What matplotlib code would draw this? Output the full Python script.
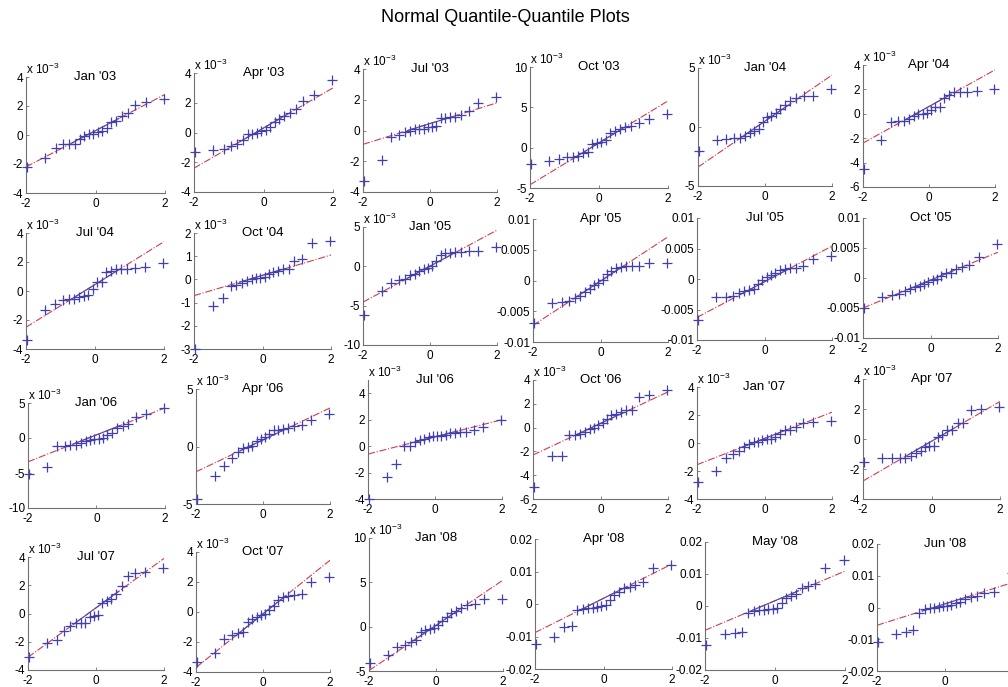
import numpy as np
import matplotlib
matplotlib.use("Agg")
from matplotlib import pyplot as plt

plt.rcParams['font.family'] = ['Liberation Sans', 'DejaVu Sans']

# theoretical normal quantiles on the x axis (20 samples per quarter)
theo_q = [-1.96, -1.44, -1.15, -0.93, -0.76, -0.60, -0.45, -0.32, -0.19, -0.06,
          0.06, 0.19, 0.32, 0.45, 0.60, 0.76, 0.93, 1.15, 1.44, 1.96]

labels = ["Jan '03", "Apr '03", "Jul '03", "Oct '03", "Jan '04", "Apr '04",
          "Jul '04", "Oct '04", "Jan '05", "Apr '05", "Jul '05", "Oct '05",
          "Jan '06", "Apr '06", "Jul '06", "Oct '06", "Jan '07", "Apr '07",
          "Jul '07", "Oct '07", "Jan '08", "Apr '08", "May '08", "Jun '08"]

# sample quantiles, in units of 1e-3
y_jan03 = [-2.2, -1.6, -0.9, -0.6, -0.6, -0.6, -0.3, -0.1, 0.1, 0.1, 0.2, 0.3, 0.5, 0.9, 1.0, 1.3, 1.5, 2.1, 2.3, 2.5]
y_apr03 = [-1.3, -1.2, -1.1, -0.9, -0.8, -0.5, -0.1, -0.1, 0.0, 0.1, 0.2, 0.4, 0.7, 0.9, 1.1, 1.3, 1.6, 2.1, 2.5, 3.5]
y_jul03 = [-3.3, -1.9, -0.4, -0.3, -0.1, 0.0, 0.1, 0.1, 0.1, 0.2, 0.2, 0.3, 0.8, 0.8, 0.9, 0.9, 1.0, 1.3, 1.8, 2.2]
y_oct03 = [-2.0, -1.6, -1.4, -1.2, -1.2, -1.0, -0.6, -0.5, 0.4, 0.6, 0.7, 1.0, 1.8, 2.1, 2.3, 2.6, 2.7, 3.0, 3.6, 4.2]
y_jan04 = [-2.0, -1.1, -1.0, -0.96, -0.96, -0.8, -0.5, -0.3, -0.15, 0.4, 0.85, 0.9, 1.2, 1.55, 1.9, 2.2, 2.5, 2.6, 2.65, 3.2]
y_apr04 = [-4.5, -2.15, -0.7, -0.6, -0.55, -0.4, -0.2, 0.0, 0.0, 0.05, 0.3, 0.55, 0.55, 1.3, 1.55, 1.75, 1.75, 1.8, 1.85, 2.0]
y_jul04 = [-3.4, -1.3, -0.9, -0.65, -0.55, -0.55, -0.4, -0.35, -0.3, 0.15, 0.65, 0.65, 1.3, 1.4, 1.5, 1.5, 1.55, 1.6, 1.65, 1.95]
y_oct04 = [-3.0, -1.15, -0.8, -0.3, -0.25, -0.15, -0.05, 0.0, 0.05, 0.07, 0.1, 0.25, 0.3, 0.35, 0.45, 0.45, 0.8, 0.9, 1.55, 1.65]
y_jan05 = [-6.2, -3.1, -2.1, -1.8, -1.6, -1.15, -0.95, -0.65, -0.4, -0.2, 0.1, 0.7, 1.4, 1.7, 1.75, 1.8, 1.8, 1.9, 2.0, 2.5]
y_apr05 = [-6.9, -3.7, -3.55, -3.35, -2.8, -2.6, -1.8, -1.35, -0.7, -0.4, 0.15, 1.0, 1.55, 2.0, 2.2, 2.4, 2.4, 2.4, 2.8, 2.9]
y_jul05 = [-6.7, -3.0, -3.0, -2.85, -2.3, -2.0, -1.75, -1.65, -0.8, -0.2, 0.35, 0.7, 1.0, 1.45, 1.65, 1.8, 1.8, 2.1, 3.2, 3.7]
y_oct05 = [-5.0, -3.2, -2.9, -2.6, -2.2, -1.8, -1.5, -1.3, -1.0, -0.7, -0.4, -0.15, 0.3, 0.8, 0.9, 1.5, 1.8, 2.2, 3.5, 5.7]
y_jan06 = [-5.2, -4.2, -1.1, -1.1, -1.0, -1.0, -0.7, -0.45, -0.3, -0.2, -0.2, -0.05, 0.5, 0.7, 1.5, 1.7, 2.0, 3.0, 3.5, 4.3]
y_apr06 = [-4.6, -2.6, -1.7, -1.0, -0.5, -0.15, -0.05, 0.05, 0.45, 0.65, 0.85, 1.1, 1.4, 1.45, 1.5, 1.6, 1.8, 1.9, 2.3, 2.85]
y_jul06 = [-4.0, -2.3, -1.35, 0.0, 0.0, 0.3, 0.5, 0.55, 0.7, 0.75, 0.75, 0.8, 0.85, 1.0, 1.0, 1.05, 1.05, 1.2, 1.45, 1.95]
y_oct06 = [-5.0, -2.4, -2.35, -0.65, -0.65, -0.5, -0.35, -0.15, 0.0, 0.2, 0.4, 0.75, 1.05, 1.15, 1.35, 1.45, 1.45, 2.6, 2.75, 3.2]
y_jan07 = [-2.8, -2.0, -1.1, -0.8, -0.6, -0.25, -0.1, 0.05, 0.1, 0.25, 0.3, 0.3, 0.4, 0.65, 0.9, 0.95, 1.15, 1.4, 1.5, 1.55]
y_apr07 = [-1.5, -1.25, -1.25, -1.25, -1.25, -1.15, -0.9, -0.8, -0.55, -0.45, -0.45, 0.15, 0.3, 0.6, 0.6, 1.05, 1.1, 1.95, 2.0, 2.15]
y_jul07 = [-3.05, -2.1, -1.85, -1.25, -0.85, -0.7, -0.7, -0.65, -0.25, -0.15, -0.1, 0.75, 0.85, 1.0, 1.4, 1.95, 2.65, 2.85, 2.95, 3.2]
y_oct07 = [-3.35, -2.7, -1.8, -1.55, -1.4, -1.35, -0.65, -0.45, -0.35, -0.2, -0.1, 0.15, 0.4, 0.8, 1.0, 1.1, 1.15, 1.2, 2.0, 2.35]
y_jan08 = [-4.1, -3.2, -2.25, -2.05, -1.7, -1.5, -0.55, -0.4, -0.3, -0.1, 0.2, 0.65, 1.1, 1.5, 1.8, 2.05, 2.45, 2.6, 3.1, 3.1]
y_apr08 = [-12.3, -10.2, -7.0, -6.8, -1.8, -1.6, -1.3, -1.3, -0.8, -0.6, -0.3, 1.2, 2.8, 3.8, 4.8, 5.3, 5.8, 6.9, 11.2, 12.0]
y_may08 = [-12.2, -8.9, -8.5, -8.0, -2.1, -1.6, -1.35, -1.35, -1.0, -1.0, -0.7, 1.0, 2.6, 3.1, 3.85, 5.5, 6.25, 7.0, 11.8, 14.3]
y_jun08 = [-10.8, -8.2, -7.6, -7.2, -1.7, -0.4, -0.2, 0.0, 0.2, 0.5, 0.6, 0.9, 1.3, 1.8, 2.6, 3.2, 3.6, 4.5, 4.9, 10.9]

samples = [y_jan03, y_apr03, y_jul03, y_oct03, y_jan04, y_apr04,
           y_jul04, y_oct04, y_jan05, y_apr05, y_jul05, y_oct05,
           y_jan06, y_apr06, y_jul06, y_oct06, y_jan07, y_apr07,
           y_jul07, y_oct07, y_jan08, y_apr08, y_may08, y_jun08]

# reference line value at x=-2 and x=2 (units of 1e-3)
fit_lo = [-2.2, -2.4, -0.9, -4.6, -3.4, -2.4, -2.5, -0.7, -4.55, -7.3, -6.3, -5.0,
          -3.4, -2.2, -0.6, -2.3, -1.55, -2.8, -3.1, -3.7, -4.95, -8.8, -7.6, -5.6]
fit_hi = [2.8, 3.0, 1.8, 5.8, 4.4, 3.6, 3.4, 1.05, 4.6, 7.1, 5.4, 4.3,
          4.3, 3.35, 2.0, 3.0, 2.2, 2.5, 3.9, 3.45, 5.25, 12.3, 10.9, 7.9]

# y limits and tick step (units of 1e-3), and whether the axis shows "x 10^-3"
y_min = [-4, -4, -4, -5, -5, -6, -4, -3, -10, -10, -10, -10,
         -10, -5, -4, -6, -4, -4, -4, -4, -5, -20, -20, -20]
y_max = [4, 4, 4, 10, 5, 4, 4, 2, 5, 10, 10, 10,
         5, 5, 5, 4, 4, 4, 4, 4, 10, 20, 20, 20]
y_step = [2, 2, 2, 5, 5, 2, 2, 1, 5, 5, 5, 5,
          5, 5, 2, 2, 2, 2, 2, 2, 5, 10, 10, 10]
scaled = [True] * 9 + [False] * 3 + [True] * 9 + [False] * 3

# axes boxes in pixels: left, right, top, bottom (the source image is slightly skewed)
boxes = [(26, 165, 77, 193), (194, 333, 73, 192), (363, 497, 69, 192),
         (530, 668, 67, 188), (698, 832, 68, 186), (863, 995, 65, 187),
         (26, 164, 233, 349), (194, 331, 233, 349), (363, 497, 227, 345),
         (533, 668, 219, 342), (697, 832, 218, 340), (863, 998, 218, 338),
         (28, 165, 403, 508), (196, 330, 389, 504), (368, 502, 380, 499),
         (533, 668, 380, 499), (697, 832, 387, 499), (863, 1000, 379, 499),
         (28, 164, 557, 670), (196, 330, 552, 672), (369, 503, 538, 671),
         (535, 672, 539, 669), (705, 845, 542, 670), (877, 1013, 544, 671)]

W, H = 1008, 687
fig = plt.figure(figsize=(W / 100, H / 100), dpi=100)
fig.text(505 / W, 1 - 18 / H, 'Normal Quantile-Quantile Plots', ha='center', va='center', fontsize=13)

axis_col = '#707070'
for i, lab in enumerate(labels):
    L, R, T, B = boxes[i]
    ax = fig.add_axes([L / W, 1 - B / H, (R - L) / W, (B - T) / H])
    ys = np.array(samples[i]) * 1e-3
    lo, hi = fit_lo[i] * 1e-3, fit_hi[i] * 1e-3

    ax.plot([-2, 2], [lo, hi], color='#d23c4b', lw=0.8, linestyle='-.', zorder=2)
    # solid part between the quartiles
    slope = (hi - lo) / 4.0
    mid = (hi + lo) / 2.0
    ax.plot([-0.674, 0.674], [mid - 0.674 * slope, mid + 0.674 * slope],
            color='#5a4a9c', lw=0.8, zorder=3)
    ax.plot(theo_q, ys, linestyle='none', marker='+', markersize=7, mew=0.9,
            color='#4040b0', clip_on=False, zorder=4)

    ax.set_xlim(-2, 2)
    ax.set_ylim(y_min[i] * 1e-3, y_max[i] * 1e-3)
    ax.set_xticks([-2, 0, 2])
    if R > W:
        # the right end of the last panel is cut off in the source image
        ax.set_xticklabels(['-2', '0', ''])
    else:
        ax.set_xticklabels(['-2', '0', '2'])
    yt = np.arange(y_min[i], y_max[i] + 0.01, y_step[i])
    ax.set_yticks(yt * 1e-3)
    if scaled[i]:
        ax.set_yticklabels(['%g' % v for v in yt])
        ax.text(0, 1, r'x 10$^{\mathregular{-3}}$', transform=ax.transAxes,
                ha='left', va='bottom', fontsize=8.5)
    else:
        ax.set_yticklabels(['%g' % round(v * 1e-3, 4) for v in yt])

    ax.text(0.5, 1.0, lab, transform=ax.transAxes, ha='center', va='center', fontsize=9.5)

    for s in ['top', 'right']:
        ax.spines[s].set_visible(False)
    for s in ['left', 'bottom']:
        ax.spines[s].set_color(axis_col)
        ax.spines[s].set_linewidth(0.8)
    ax.tick_params(direction='in', length=2.5, width=0.6, color=axis_col,
                   labelsize=8.5)
    ax.tick_params(axis='x', pad=3.5)
    ax.tick_params(axis='y', pad=2)

fig.savefig('out.png', dpi=100)
